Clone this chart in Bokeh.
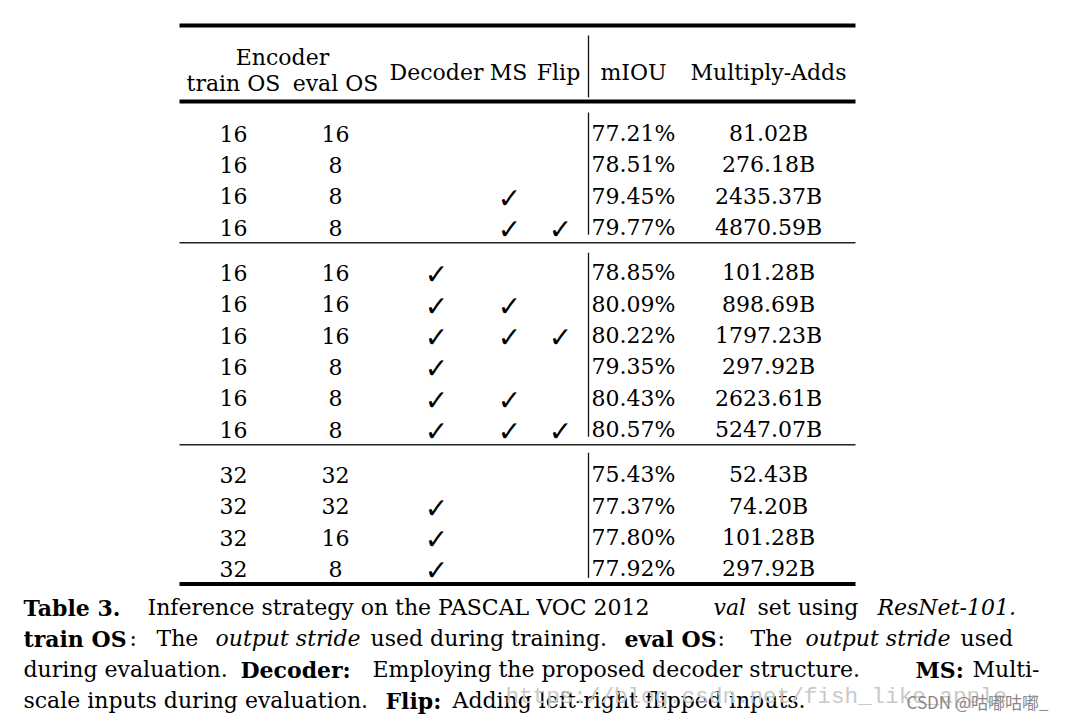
from bokeh.plotting import figure
from bokeh.models import Range1d, ColumnDataSource
from bokeh.core.properties import value
from bokeh.embed import file_html
from bokeh.resources import INLINE

# ---------------- data ----------------
train_os = [16, 16, 16, 16, 16, 16, 16, 16, 16, 16, 32, 32, 32, 32]
eval_os = [16, 8, 8, 8, 16, 16, 16, 8, 8, 8, 32, 32, 16, 8]
decoder = [0, 0, 0, 0, 1, 1, 1, 1, 1, 1, 0, 1, 1, 1]
ms = [0, 0, 1, 1, 0, 1, 1, 0, 1, 1, 0, 0, 0, 0]
flip = [0, 0, 0, 1, 0, 0, 1, 0, 0, 1, 0, 0, 0, 0]
miou = [77.21, 78.51, 79.45, 79.77, 78.85, 80.09, 80.22, 79.35, 80.43, 80.57,
        75.43, 77.37, 77.80, 77.92]
madds = [81.02, 276.18, 2435.37, 4870.59, 101.28, 898.69, 1797.23, 297.92,
         2623.61, 5247.07, 52.43, 74.20, 101.28, 297.92]
group = [0, 0, 0, 0, 1, 1, 1, 1, 1, 1, 2, 2, 2, 2]

caption_lines = [
    [("Table 3.", "bold", 23), ("Inference strategy on the PASCAL VOC 2012", "normal", 147),
     ("val", "italic", 713), ("set using", "normal", 757), ("ResNet-101.", "italic", 877)],
    [("train OS", "bold", 23), (":", "normal", 129), ("The", "normal", 156),
     ("output stride", "italic", 215), ("used during training.", "normal", 370),
     ("eval OS", "bold", 624), (":", "normal", 717), ("The", "normal", 750),
     ("output stride", "italic", 805), ("used", "normal", 960)],
    [("during evaluation.", "normal", 23), ("Decoder:", "bold", 240),
     ("Employing the proposed decoder structure.", "normal", 372),
     ("MS:", "bold", 915), ("Multi-", "normal", 972)],
    [("scale inputs during evaluation.", "normal", 23), ("Flip:", "bold", 385),
     ("Adding left-right flipped inputs.", "normal", 452)],
]
watermark = "https://blog.csdn.net/fish_like_apple"
signature = "CSDN @咕嘟咕嘟_"

# ---------------- layout ----------------
W, H = 1058, 715
SERIF = value("DejaVu Serif")

p = figure(width=W, height=H, output_backend="svg", toolbar_location=None,
           x_range=Range1d(0, W), y_range=Range1d(H, 0), min_border=0)
p.axis.visible = False
p.grid.visible = False
p.outline_line_color = None
p.background_fill_color = "white"
p.border_fill_color = "white"

X0, X1 = 179, 855
VX = 588
COL_TRAIN, COL_EVAL, COL_DEC, COL_MS, COL_FLIP, COL_MIOU, COL_MADD = 233, 335, 436, 509, 560, 633, 768

# row positions (row centres)
PITCH = 31.4
row_y = []
rules = []
y = 101 + 24
for g in range(3):
    n = group.count(g)
    for i in range(n):
        row_y.append(y + i * PITCH)
    last = y + (n - 1) * PITCH
    rules.append(last + 23)
    y = last + 23 + 22

# horizontal rules
p.segment(x0=[X0, X0], y0=[25, 101], x1=[X1, X1], y1=[25, 101], line_width=4, line_color="#000000")
p.segment(x0=[X0], y0=[rules[2]], x1=[X1], y1=[rules[2]], line_width=4, line_color="#000000")
p.segment(x0=[X0, X0], y0=rules[:2], x1=[X1, X1], y1=rules[:2], line_width=1.6, line_color="#222222")

# vertical separator
tops = [35, 101 + 11, rules[0] + 10, rules[1] + 8]
bots = [97, rules[0] - 8, rules[1] - 8, rules[2] - 6]
p.segment(x0=[VX] * 4, y0=tops, x1=[VX] * 4, y1=bots, line_width=1.3, line_color="#111111")

# header
hdr = dict(text_font=SERIF, text_font_size="22px", text_align="center",
           text_baseline="alphabetic", text_color="#000000")
p.text(x=[282], y=[57], text=["Encoder"], **hdr)
p.text(x=[COL_TRAIN, COL_EVAL], y=[83, 83], text=["train OS", "eval OS"], **hdr)
p.text(x=[COL_DEC, 508, 558, COL_MIOU, COL_MADD], y=[72] * 5,
       text=["Decoder", "MS", "Flip", "mIOU", "Multiply-Adds"], **hdr)

# body
src = ColumnDataSource(dict(
    y=[v + 8 for v in row_y],
    yc=[v + 10 for v in row_y],
    train=[str(v) for v in train_os],
    ev=[str(v) for v in eval_os],
    miou=[f"{v:.2f}%" for v in miou],
    madd=[f"{v:.2f}B" for v in madds],
    dec=["✓" if v else "" for v in decoder],
    ms=["✓" if v else "" for v in ms],
    flip=["✓" if v else "" for v in flip],
))
body = dict(source=src, text_font=SERIF, text_font_size="22px", text_align="center",
            text_baseline="alphabetic", text_color="#000000")
p.text(x=COL_TRAIN, y="y", text="train", **body)
p.text(x=COL_EVAL, y="y", text="ev", **body)
p.text(x=COL_MIOU, y="y", text="miou", **body)
p.text(x=COL_MADD, y="y", text="madd", **body)
chk = dict(source=src, text_font=value("DejaVu Sans"), text_font_size="28px",
           text_align="center", text_baseline="alphabetic", text_color="#000000")
p.text(x=COL_DEC, y="yc", text="dec", **chk)
p.text(x=COL_MS, y="yc", text="ms", **chk)
p.text(x=COL_FLIP, y="yc", text="flip", **chk)

# caption
base = [607, 638, 669, 700]
for li, segs in enumerate(caption_lines):
    for txt, style, x in segs:
        p.text(x=[x], y=[base[li]], text=[txt], text_font=SERIF, text_font_size="22px",
               text_font_style=style, text_align="left", text_baseline="alphabetic",
               text_color="#000000")

# watermark
p.text(x=[505], y=[696], text=[watermark], text_font=value("Liberation Mono"),
       text_font_size="22.6px", text_align="left", text_baseline="alphabetic",
       text_color="#c9c9c9")
p.text(x=[1048], y=[701], text=[signature], text_font=value("Noto Sans CJK SC"),
       text_font_size="17px", text_align="right", text_baseline="alphabetic",
       text_color="#888888")

open("out.html", "w").write(file_html(p, INLINE))
